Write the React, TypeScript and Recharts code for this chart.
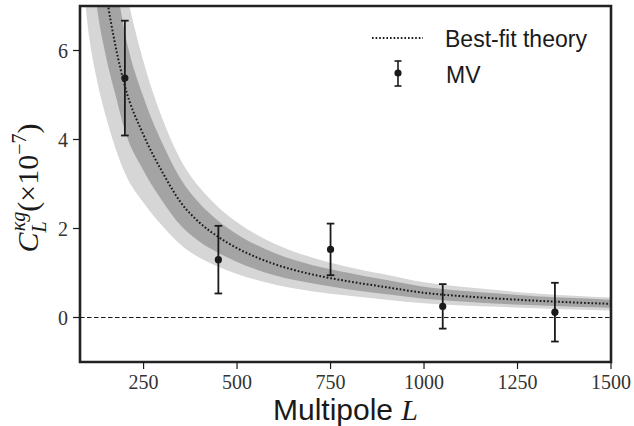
import {
  ComposedChart,
  Area,
  Line,
  Scatter,
  ErrorBar,
  XAxis,
  YAxis,
  ReferenceLine,
  ReferenceArea,
  Legend,
} from "recharts";

// multipole grid for the theory curve + bands
const L_GRID = [80, 100, 125, 150, 175, 200, 250, 300, 350, 400, 450, 500, 600, 700, 800, 900, 1000, 1100, 1200, 1300, 1400, 1500];
const THEORY = [15.5, 11.9, 9.1, 7.3, 6.1, 5.2, 4.1, 3.27, 2.58, 2.13, 1.81, 1.56, 1.2, 0.97, 0.81, 0.68, 0.555, 0.48, 0.424, 0.377, 0.338, 0.307];
const SIG1_LO = [11.8, 9.1, 7.0, 5.85, 5.0, 4.2, 3.3, 2.62, 2.06, 1.7, 1.45, 1.25, 0.95, 0.77, 0.63, 0.52, 0.42, 0.36, 0.31, 0.275, 0.243, 0.218];
const SIG1_HI = [19.5, 14.9, 11.4, 9.0, 7.6, 6.4, 4.95, 3.92, 3.1, 2.56, 2.17, 1.87, 1.45, 1.18, 1.0, 0.84, 0.69, 0.6, 0.54, 0.48, 0.436, 0.4];
const SIG2_LO = [8.4, 6.6, 5.35, 4.5, 3.8, 3.25, 2.58, 2.06, 1.63, 1.34, 1.14, 0.98, 0.74, 0.59, 0.49, 0.4, 0.32, 0.27, 0.24, 0.21, 0.18, 0.16];
const SIG2_HI = [23, 17.5, 13.2, 10.3, 8.7, 7.5, 5.75, 4.48, 3.53, 2.92, 2.48, 2.14, 1.66, 1.35, 1.13, 0.96, 0.79, 0.69, 0.61, 0.54, 0.49, 0.45];

// MV measurements
const MV_L = [200, 450, 750, 1050, 1350];
const MV_C = [5.38, 1.3, 1.53, 0.25, 0.12];
const MV_ERR = [1.29, 0.76, 0.58, 0.5, 0.66];

const X_TICKS = [250, 500, 750, 1000, 1250, 1500];
const Y_TICKS = [0, 2, 4, 6];

const curveData = L_GRID.map((L, i) => ({
  L,
  theory: THEORY[i],
  band1: [SIG1_LO[i], SIG1_HI[i]],
  band2: [SIG2_LO[i], SIG2_HI[i]],
}));

const mvData = MV_L.map((L, i) => ({ L, c: MV_C[i], err: MV_ERR[i] }));

const SERIF = "'Liberation Serif', 'DejaVu Serif', serif";
const SANS = "'Liberation Sans', 'DejaVu Sans', sans-serif";
const INK = "#1a1a1a";

const Dot = (props: any) => <circle cx={props.cx} cy={props.cy} r={3.6} fill={INK} />;

function YLabel({ viewBox }: any) {
  const cx = 38;
  const cy = viewBox.y + viewBox.height / 2 + 4;
  return (
    <text
      x={cx}
      y={cy}
      transform={`rotate(-90, ${cx}, ${cy})`}
      textAnchor="middle"
      fontFamily={SERIF}
      fontSize={30}
      fill={INK}
    >
      <tspan fontStyle="italic">C</tspan>
      <tspan fontStyle="italic" fontSize={20} dy={8}>L</tspan>
      <tspan fontStyle="italic" fontSize={20} dx={-10} dy={-21}>κg</tspan>
      <tspan dy={13}>(×10</tspan>
      <tspan fontSize={20} dy={-12}>−7</tspan>
      <tspan dy={12}>)</tspan>
    </text>
  );
}

function XLabel({ viewBox }: any) {
  const cx = viewBox.x + viewBox.width / 2;
  return (
    <text x={cx} y={420} textAnchor="middle" fill={INK} fontSize={30}>
      <tspan fontFamily={SANS}>Multipole </tspan>
      <tspan fontFamily={SERIF} fontStyle="italic">L</tspan>
    </text>
  );
}

function renderLegend() {
  return (
    <svg width={260} height={75}>
      <line x1={12} x2={63} y1={18} y2={18} stroke={INK} strokeWidth={1.8} strokeDasharray="1.6 2" />
      <text x={85} y={27} fontFamily={SANS} fontSize={23} fill={INK}>
        Best-fit theory
      </text>
      <line x1={38} x2={38} y1={41} y2={66} stroke={INK} strokeWidth={1.6} />
      <line x1={34.5} x2={41.5} y1={41} y2={41} stroke={INK} strokeWidth={1.6} />
      <line x1={34.5} x2={41.5} y1={66} y2={66} stroke={INK} strokeWidth={1.6} />
      <circle cx={38} cy={53} r={3.6} fill={INK} />
      <text x={86} y={63} fontFamily={SANS} fontSize={23} fill={INK}>
        MV
      </text>
    </svg>
  );
}

export default function App() {
  return (
    <div style={{ position: "absolute", left: 0, top: 0, background: "#fff" }}>
      <ComposedChart
        width={634}
        height={426}
        data={curveData}
        margin={{ top: 6, right: 23, bottom: 0, left: 0 }}
      >
        <XAxis
          dataKey="L"
          type="number"
          domain={[80, 1500]}
          ticks={X_TICKS}
          allowDataOverflow
          height={64}
          axisLine={false}
          tickSize={7}
          tickMargin={6}
          tickLine={{ stroke: INK, strokeWidth: 1.2 }}
          tick={{ fontFamily: SERIF, fontSize: 20, fill: "#333" }}
          label={<XLabel />}
        />
        <YAxis
          type="number"
          domain={[-1, 7]}
          ticks={Y_TICKS}
          allowDataOverflow
          width={80}
          axisLine={false}
          tickSize={7}
          tickMargin={5}
          tickLine={{ stroke: INK, strokeWidth: 1.2 }}
          tick={{ fontFamily: SERIF, fontSize: 20, fill: "#333" }}
          label={<YLabel />}
        />
        <Area
          dataKey="band2"
          type="monotone"
          stroke="none"
          fill="#d6d6d6"
          fillOpacity={1}
          isAnimationActive={false}
        />
        <Area
          dataKey="band1"
          type="monotone"
          stroke="none"
          fill="#a4a4a4"
          fillOpacity={1}
          isAnimationActive={false}
        />
        <ReferenceLine y={0} stroke={INK} strokeWidth={1.1} strokeDasharray="4.5 2.5" />
        <Line
          dataKey="theory"
          type="monotone"
          stroke={INK}
          strokeWidth={2}
          strokeDasharray="1.7 2"
          dot={false}
          isAnimationActive={false}
        />
        <Scatter data={mvData} dataKey="c" shape={<Dot />} isAnimationActive={false}>
          <ErrorBar dataKey="err" direction="y" width={3.8} stroke={INK} strokeWidth={1.8} />
        </Scatter>
        <ReferenceArea
          x1={80}
          x2={1500}
          y1={-1}
          y2={7}
          fill="none"
          fillOpacity={0}
          stroke="#222"
          strokeWidth={2.6}
          ifOverflow="visible"
        />
        <Legend
          layout="horizontal"
          verticalAlign="middle"
          align="center"
          content={renderLegend}
          wrapperStyle={{ position: "absolute", left: 360, top: 20, width: 260, height: 75 }}
        />
      </ComposedChart>
    </div>
  );
}
